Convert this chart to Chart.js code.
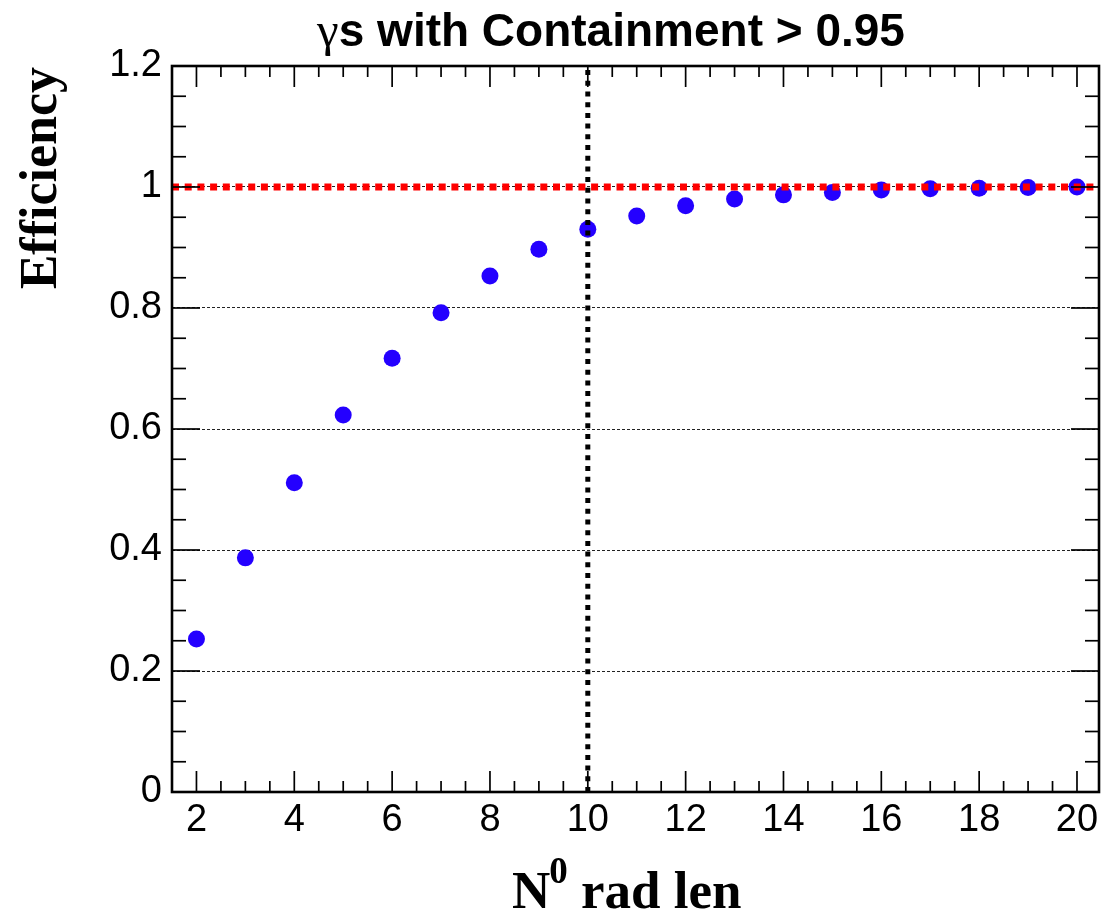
<!DOCTYPE html>
<html><head><meta charset="utf-8">
<script src="https://cdn.jsdelivr.net/npm/chart.js@4.4.1/dist/chart.umd.min.js"></script>
<style>html,body{margin:0;padding:0;background:#fff}canvas{display:block}</style>
</head><body>
<canvas id="c" width="1102" height="912"></canvas>
<script>
// ---- data ----
const radLen = [2,3,4,5,6,7,8,9,10,11,12,13,14,15,16,17,18,19,20];
const efficiency = [0.253,0.387,0.511,0.623,0.717,0.792,0.853,0.897,0.930,0.952,0.969,0.980,0.987,0.991,0.995,0.997,0.998,0.999,1.000];
const xTickValues = [2,4,6,8,10,12,14,16,18,20];
const xTickLabels = ['2','4','6','8','10','12','14','16','18','20'];
const yTickValues = [0,0.2,0.4,0.6,0.8,1,1.2];
const yTickLabels = ['0','0.2','0.4','0.6','0.8','1','1.2'];
const referenceLine = [{x:1.5,y:1},{x:20.45,y:1}];
const cutLine = [{x:10,y:0},{x:10,y:1.2}];
const titleGreek = 'γ';
const titleRest = 's with Containment > 0.95';
const yTitle = 'Efficiency';
const xTitleMain = 'N';
const xTitleSup = '0';
const xTitleRest = ' rad len';

const SANS = '"Liberation Sans", Arial, Helvetica, sans-serif';
const SERIF = '"Liberation Serif", "Times New Roman", Times, serif';

const decor = {
  id: 'decor',
  afterDraw(chart) {
    const {ctx, chartArea: a, scales: {x, y}} = chart;
    ctx.save();
    ctx.strokeStyle = '#000';
    ctx.lineWidth = 1.7;
    ctx.setLineDash([]);
    const seg = (x1,y1,x2,y2)=>{ctx.beginPath();ctx.moveTo(x1,y1);ctx.lineTo(x2,y2);ctx.stroke();};
    // x ticks (bottom & top)
    for (let i = 0; ; i++) {
      const v = x.min + 0.5*i;
      if (v > x.max + 1e-9) break;
      const px = x.getPixelForValue(v);
      const major = Math.abs(v/2 - Math.round(v/2)) < 1e-6;
      const len = major ? 21 : 11;
      seg(px, a.bottom, px, a.bottom - len);
      seg(px, a.top, px, a.top + len);
    }
    // y ticks (left & right)
    for (let i = 0; ; i++) {
      const v = y.min + 0.05*i;
      if (v > y.max + 1e-9) break;
      const py = y.getPixelForValue(v);
      const major = Math.abs(v/0.2 - Math.round(v/0.2)) < 1e-6;
      const len = major ? 28 : 14;
      seg(a.left, py, a.left + len, py);
      seg(a.right, py, a.right - len, py);
    }
    // frame
    ctx.lineWidth = 2.6;
    ctx.strokeRect(a.left, a.top, a.right - a.left, a.bottom - a.top);
    ctx.fillStyle = '#000';
    // x tick labels (placed by the x scale)
    ctx.font = '38px ' + SANS;
    ctx.textAlign = 'center';
    ctx.textBaseline = 'alphabetic';
    xTickValues.forEach((v, i) => {
      ctx.fillText(xTickLabels[i], x.getPixelForValue(v), a.bottom + 39);
    });
    // title
    ctx.textAlign = 'left';
    ctx.font = '49px ' + SERIF;
    const wG = ctx.measureText(titleGreek).width;
    ctx.font = 'bold 46px ' + SANS;
    const wR = ctx.measureText(titleRest).width;
    const x0 = 611 - (wG + wR) / 2;
    ctx.font = '49px ' + SERIF;
    ctx.fillText(titleGreek, x0, 46);
    ctx.font = 'bold 46px ' + SANS;
    ctx.fillText(titleRest, x0 + wG, 46);
    // y title
    ctx.save();
    ctx.translate(56, 67);
    ctx.rotate(-Math.PI/2);
    ctx.font = 'bold 52px ' + SERIF;
    ctx.textAlign = 'right';
    ctx.fillText(yTitle, 0, 0);
    ctx.restore();
    // x title
    ctx.textAlign = 'left';
    ctx.font = 'bold 53px ' + SERIF;
    ctx.fillText(xTitleMain, 512, 908);
    const wN = ctx.measureText(xTitleMain).width;
    ctx.font = 'bold 37px ' + SERIF;
    ctx.fillText(xTitleSup, 512 + wN - 1, 883);
    const wS = ctx.measureText(xTitleSup).width;
    ctx.font = 'bold 53px ' + SERIF;
    ctx.fillText(xTitleRest, 512 + wN - 1 + wS, 908);
    ctx.restore();
  }
};

new Chart(document.getElementById('c'), {
  type: 'scatter',
  data: {
    datasets: [
      {
        label: 'cut',
        data: cutLine,
        showLine: true,
        borderColor: '#000',
        borderWidth: 5,
        borderDash: [5, 5.7],
        pointRadius: 0,
        order: 0
      },
      {
        label: 'reference',
        data: referenceLine,
        showLine: true,
        borderColor: '#ff0000',
        borderWidth: 7,
        borderDash: [7, 5.7],
        pointRadius: 0,
        order: 1
      },
      {
        label: 'efficiency',
        data: radLen.map((v, i) => ({x: v, y: efficiency[i]})),
        showLine: false,
        backgroundColor: '#2400ff',
        borderColor: '#2400ff',
        borderWidth: 0,
        pointRadius: 8.5,
        pointHoverRadius: 8.5,
        order: 2
      }
    ]
  },
  options: {
    responsive: false,
    animation: false,
    devicePixelRatio: 1,
    layout: { autoPadding: false, padding: { top: 66, right: 3, left: 0, bottom: 0 } },
    plugins: { legend: { display: false }, tooltip: { enabled: false }, title: { display: false } },
    scales: {
      x: {
        type: 'linear',
        min: 1.5,
        max: 20.45,
        afterBuildTicks: (s) => { s.ticks = xTickValues.map(v => ({value: v})); },
        afterFit: (s) => { s.height = 120; },
        grid: { display: false, drawTicks: false },
        border: { display: false },
        ticks: { display: false }
      },
      y: {
        type: 'linear',
        min: 0,
        max: 1.2,
        afterBuildTicks: (s) => { s.ticks = yTickValues.map(v => ({value: v})); },
        afterFit: (s) => { s.width = 172; },
        grid: {
          drawTicks: false,
          color: (ctx) => (ctx.tick && (ctx.tick.value === 0 || Math.abs(ctx.tick.value - 1.2) < 1e-9)) ? 'rgba(0,0,0,0)' : '#222',
          lineWidth: 1
        },
        border: { display: false, dash: [3, 2] },
        ticks: {
          callback: (v, i) => yTickLabels[i],
          color: '#000',
          font: { family: SANS, size: 38 },
          padding: 10,
          autoSkip: false
        }
      }
    }
  },
  plugins: [decor]
});
</script>
</body></html>
